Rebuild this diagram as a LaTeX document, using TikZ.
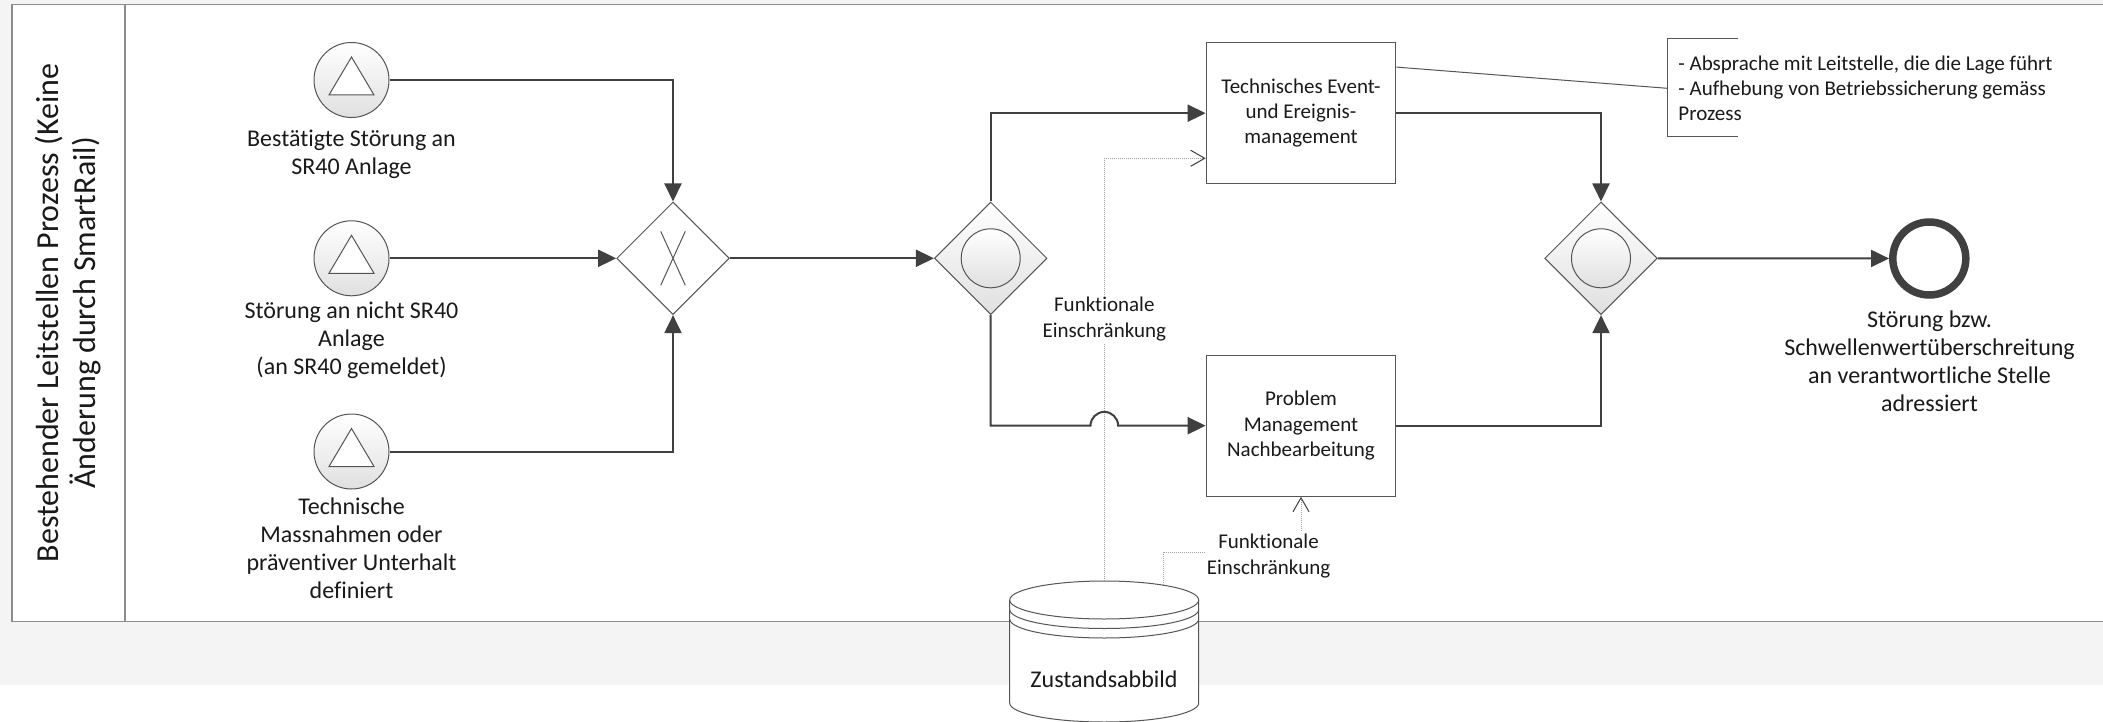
\documentclass[tikz,border=0pt]{standalone}
\usepackage{fontspec}
\setmainfont{Carlito}[Ligatures=NoCommon]
\usetikzlibrary{shapes.geometric,arrows.meta,calc}

\definecolor{flowgray}{HTML}{404040}
\definecolor{linegray}{HTML}{555555}
\definecolor{framegray}{HTML}{8C8C8C}
\definecolor{bandgray}{HTML}{F4F4F4}
\definecolor{dotgray}{HTML}{A0A0A0}
\definecolor{shadegray}{HTML}{E0E0E0}
\definecolor{textblack}{HTML}{1A1A1A}

\tikzset{
  flow/.style={draw=flowgray, line width=1pt, -{Triangle[length=9pt,width=8.5pt]}},
  startev/.style={circle, draw=linegray, line width=0.5pt, inner sep=0pt,
    minimum size=37.5pt, top color=white, bottom color=shadegray},
  endev/.style={circle, draw=flowgray, line width=3.75pt, inner sep=0pt,
    minimum size=36.5pt, fill=white},
  gateway/.style={diamond, aspect=1, draw=linegray, line width=0.5pt, inner sep=0pt,
    minimum width=56.3pt, minimum height=56.3pt, fill=white},
  orgateway/.style={gateway, top color=white, bottom color=shadegray},
  task/.style={rectangle, draw=linegray, line width=0.6pt, fill=white,
    minimum width=94.75pt, minimum height=70.5pt, align=center,
    text=textblack, font=\fontsize{10.5}{12.6}\selectfont},
  evlabel/.style={align=center, inner sep=0pt, text=textblack,
    font=\fontsize{12}{14.1}\selectfont},
  smalllabel/.style={align=center, fill=white, inner sep=1pt, text=textblack,
    font=\fontsize{10.5}{12.9}\selectfont},
  dataassoc/.style={draw=dotgray, line width=0.5pt, dash pattern=on 0.5pt off 0.5pt,
    -{Straight Barb[length=7pt,width=8pt,color=flowgray]}},
  assoc/.style={draw=linegray, line width=0.5pt},
  evtri/.pic={\draw[linegray, line width=0.5pt, fill=white]
    (0,-23) -- (22.5,15) -- (-22.5,15) -- cycle;},
  xmark/.pic={\draw[linegray, line width=0.5pt]
    (-12.3,-27) -- (12.3,27) (12.3,-27) -- (-12.3,27);},
  ormark/.pic={\draw[linegray, line width=0.5pt, top color=white, bottom color=shadegray]
    (0,0) circle[radius=29.5];},
}

\begin{document}
\begin{tikzpicture}[x=0.5pt, y=-0.5pt]
\useasboundingbox (0,0) rectangle (2103,722);
\clip (0,0) rectangle (2103,722);

% page background and pool
\fill[bandgray] (0,0) rectangle (2103,685);
\draw[framegray, line width=0.75pt, fill=white] (12,4.7) rectangle (2120,621.7);
\draw[framegray, line width=0.75pt] (125,4.7) -- (125,621.7);

% lane title
\node[rotate=90, align=center, text=textblack, font=\fontsize{16}{18.5}\selectfont]
  (lane) at (68.5,313) {Bestehender Leitstellen Prozess (Keine\\Änderung durch SmartRail)};

% start events
\node[startev] (s1) at (351.5,80) {};
\node[startev] (s2) at (351.5,258.3) {};
\node[startev] (s3) at (351.5,451.5) {};
\pic at (s1) {evtri};
\pic at (s2) {evtri};
\pic at (s3) {evtri};

\node[evlabel] (l1) at (351.5,154) {Bestätigte Störung an\\SR40 Anlage};
\node[evlabel] (l2) at (351.5,340.5) {Störung an nicht SR40\\Anlage\\(an SR40 gemeldet)};
\node[evlabel] (l3) at (351.5,548.3) {Technische\\Massnahmen oder\\präventiver Unterhalt\\definiert};

% gateways
\node[gateway] (gx) at (673,258.3) {};
\pic at (gx) {xmark};
\node[orgateway] (g2) at (990.7,258.3) {};
\pic at (g2) {ormark};
\node[orgateway] (g3) at (1601,258.3) {};
\pic at (g3) {ormark};

% tasks
\node[task] (b1) at (1301,113.2) {Technisches Event-\\und Ereignis-\\management};
\node[task] (b2) at (1301,425.7) {Problem\\Management\\Nachbearbeitung};

% end event
\node[endev] (e) at (1929.3,258.5) {};
\node[evlabel] (le) at (1929.5,361.3)
  {Störung bzw.\\Schwellenwertüberschreitung\\an verantwortliche Stelle\\adressiert};

% annotation
\draw[assoc] (1738.3,39) -- (1667.3,39) -- (1667.3,136.7) -- (1738.3,136.7);
\coordinate (anl) at (1667.3,88.3);
\node[anchor=west, align=left, inner sep=0pt, text=textblack,
  font=\fontsize{10.5}{12.7}\selectfont] (annot) at (1678,88.3)
  {- Absprache mit Leitstelle, die die Lage führt\\- Aufhebung von Betriebssicherung gemäss\\Prozess};
\draw[assoc] ($(b1.north east)+(0,25)$) -- (anl);

% data store
\fill[white] (1009.7,600) -- (1009.7,703)
  arc[start angle=180, end angle=0, x radius=94.5, y radius=19]
  -- (1198.7,600)
  arc[start angle=0, end angle=-180, x radius=94.5, y radius=19] -- cycle;
\draw[linegray, line width=0.5pt] (1009.7,600) -- (1009.7,703)
  arc[start angle=180, end angle=0, x radius=94.5, y radius=19] -- (1198.7,600);
\draw[linegray, line width=0.5pt] (1104.2,600) ellipse[x radius=94.5, y radius=19];
\draw[linegray, line width=0.5pt] (1009.7,609.5)
  arc[start angle=180, end angle=0, x radius=94.5, y radius=19];
\draw[linegray, line width=0.5pt] (1009.7,619)
  arc[start angle=180, end angle=0, x radius=94.5, y radius=19];
\node[evlabel] (ds) at (1104,679.3) {Zustandsabbild};
\coordinate (dstop) at (1104.3,581);
\coordinate (dstr) at (1163.3,585.2);

% data associations
\coordinate (d1) at (1104.3,158.3);
\draw[dataassoc] (dstop) -- (d1) -- (b1.west |- d1);
\coordinate (d2) at (1301,552.3);
\draw[dataassoc] (dstr) |- (d2) -- (b2.south);
\node[smalllabel] (fe1) at (1104.3,319.2) {Funktionale\\Einschränkung};
\node[smalllabel] (fe2) at (1268.5,556.3) {Funktionale\\Einschränkung};

% sequence flows
\draw[flow] (s1) -| (gx);
\draw[flow] (s2) -- (gx);
\draw[flow] (s3) -| (gx);
\draw[flow] (gx) -- (g2);
\draw[flow] (g2) |- (b1);
\coordinate (jl) at (1090.5,425.7);
\draw[flow] (g2.south) |- (jl)
  arc[start angle=180, end angle=360, radius=13.8] -- (b2.west);
\draw[flow] (b1) -| (g3);
\draw[flow] (b2) -| (g3);
\draw[flow] (g3) -- (e);
\end{tikzpicture}
\end{document}
